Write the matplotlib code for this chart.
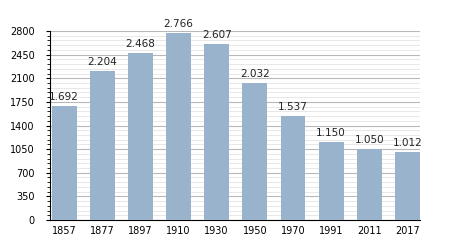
import numpy as np
import matplotlib.pyplot as plt
from matplotlib.ticker import MultipleLocator

# data
years = ['1857', '1877', '1897', '1910', '1930', '1950', '1970', '1991', '2011', '2017']
population = [1692, 2204, 2468, 2766, 2607, 2032, 1537, 1150, 1050, 1012]
labels = ['1.692', '2.204', '2.468', '2.766', '2.607', '2.032', '1.537', '1.150', '1.050', '1.012']

fig = plt.figure(figsize=(4.5, 2.5), dpi=100)
ax = fig.add_axes([50/450, 30/250, 370/450, 189/250])

x = np.arange(len(years))
ax.bar(x, population, width=0.65, color='#9ab3cc', zorder=3)
for xi, v, lab in zip(x, population, labels):
    ax.text(xi, v + 60, lab, ha='center', va='bottom', fontsize=7.5, color='#222222', zorder=4)

ax.set_xlim(-0.37, 9.33)
ax.set_ylim(0, 2800)
ax.yaxis.set_major_locator(MultipleLocator(350))
ax.yaxis.set_minor_locator(MultipleLocator(70))
ax.grid(which='major', axis='y', color='#b8b8b8', linewidth=0.8, zorder=0)
ax.grid(which='minor', axis='y', color='#e4e4e4', linewidth=0.6, zorder=0)

ax.set_xticks(x)
ax.set_xticklabels(years)
ax.tick_params(axis='x', length=0, labelsize=7, pad=4)
ax.tick_params(axis='y', which='major', length=3, width=0.8, labelsize=7, pad=8)
ax.tick_params(axis='y', which='minor', length=2, width=0.6)

for s in ['top', 'right']:
    ax.spines[s].set_visible(False)
ax.spines['left'].set_linewidth(0.8)
ax.spines['bottom'].set_linewidth(0.8)

plt.savefig('out.png', dpi=100)
